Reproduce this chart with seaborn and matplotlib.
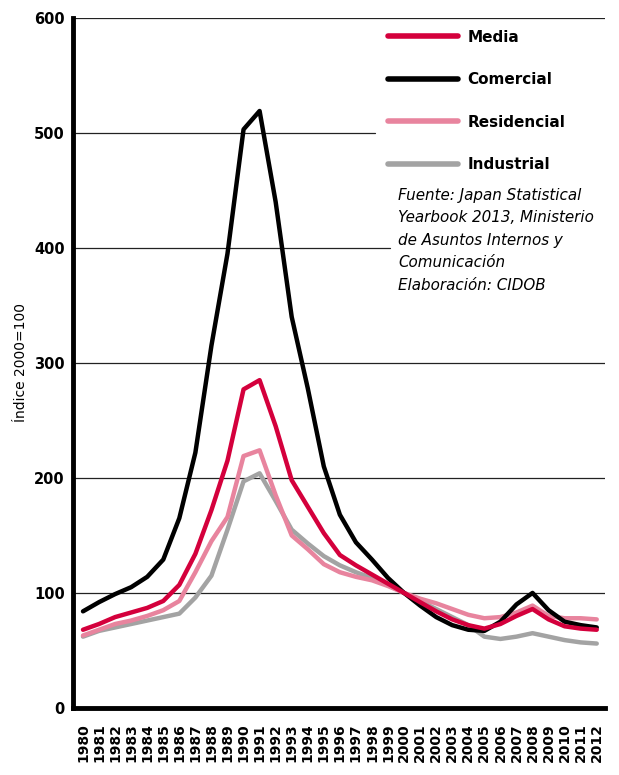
import numpy as np
import pandas as pd
import seaborn as sns
import matplotlib.pyplot as plt

years = list(range(1980, 2013))

media = [68, 73, 79, 83, 87, 93, 107, 134, 172, 215, 277, 285, 245, 198, 175, 152, 133, 124, 116, 108,
         100, 92, 84, 77, 72, 69, 73, 80, 86, 77, 71, 69, 68]
comercial = [84, 92, 99, 105, 114, 129, 165, 222, 315, 395, 503, 519, 440, 340, 278, 210, 168, 144, 129, 113,
             100, 89, 79, 72, 68, 67, 75, 90, 100, 85, 75, 72, 70]
residencial = [63, 68, 73, 76, 80, 85, 93, 118, 145, 166, 219, 224, 185, 150, 138, 125, 118, 114, 111, 106,
               100, 95, 91, 86, 81, 78, 79, 83, 89, 80, 78, 78, 77]
industrial = [62, 67, 70, 73, 76, 79, 82, 96, 115, 155, 197, 204, 180, 155, 143, 132, 124, 118, 113, 107,
              100, 93, 86, 79, 72, 62, 60, 62, 65, 62, 59, 57, 56]

series = ['Industrial', 'Residencial', 'Comercial', 'Media']
values = {'Media': media, 'Comercial': comercial, 'Residencial': residencial, 'Industrial': industrial}
colores = {'Media': '#d4003c', 'Comercial': '#000000', 'Residencial': '#e8849e', 'Industrial': '#a3a3a3'}
orden_leyenda = ['Media', 'Comercial', 'Residencial', 'Industrial']
yticks = [0, 100, 200, 300, 400, 500, 600]

df = pd.DataFrame([(y, s, v) for s in series for y, v in zip(years, values[s])],
                  columns=['year', 'serie', 'valor'])

sns.set_style("white")
plt.rcParams['font.family'] = ['DejaVu Sans']
plt.rcParams['text.color'] = 'black'
plt.rcParams['axes.labelcolor'] = 'black'
plt.rcParams['xtick.color'] = 'black'
plt.rcParams['ytick.color'] = 'black'

fig = plt.figure(figsize=(6.19, 7.75), dpi=100)
ax = fig.add_axes([0.118, 0.0865, 0.859, 0.8905])

# lineas de referencia (las de 400 y 500 se cortan antes de la leyenda / fuente)
cortes = {400: 0.596, 500: 0.568}
for yv in yticks[1:]:
    ax.axhline(yv, xmax=cortes.get(yv, 1.0), color='#222222', lw=0.9, zorder=0)

sns.lineplot(data=df, x='year', y='valor', hue='serie', hue_order=series, palette=colores,
             linewidth=3.2, ax=ax, legend=False, zorder=2)

ax.set_xlim(1979.38, 2012.5)
ax.set_ylim(0, 600)
ax.set_xticks(years)
ax.set_xticklabels([str(y) for y in years], rotation=90, fontsize=10, fontweight='bold')
ax.set_yticks(yticks)
ax.set_yticklabels([str(v) for v in yticks], fontsize=10.5, fontweight='bold')
ax.tick_params(axis='y', length=0, pad=6)
ax.tick_params(axis='x', length=0, pad=11)
ax.set_xlabel('')
ax.set_ylabel('Índice 2000=100', fontsize=10, family=['Liberation Sans Narrow', 'DejaVu Sans'])

for s in ['top', 'right']:
    ax.spines[s].set_visible(False)
ax.spines['left'].set_linewidth(3.5)
ax.spines['bottom'].set_linewidth(3.5)
ax.spines['left'].set_color('black')
ax.spines['bottom'].set_color('black')

handles = [plt.Line2D([0], [0], color=colores[s], lw=4, solid_capstyle='round') for s in orden_leyenda]
ax.legend(handles=handles, labels=orden_leyenda, loc='upper left', bbox_to_anchor=(0.592, 0.983),
          handlelength=4.6, handletextpad=0.6, labelspacing=1.8, frameon=False,
          prop={'size': 11, 'weight': 'bold'}, borderpad=0, borderaxespad=0)

ax.text(0.611, 0.754, 'Fuente: Japan Statistical\nYearbook 2013, Ministerio\nde Asuntos Internos y\nComunicación\nElaboración: CIDOB',
        transform=ax.transAxes, ha='left', va='top', fontsize=10.9, style='italic', linespacing=1.63,
        zorder=5)

fig.savefig('out.png', dpi=100)
